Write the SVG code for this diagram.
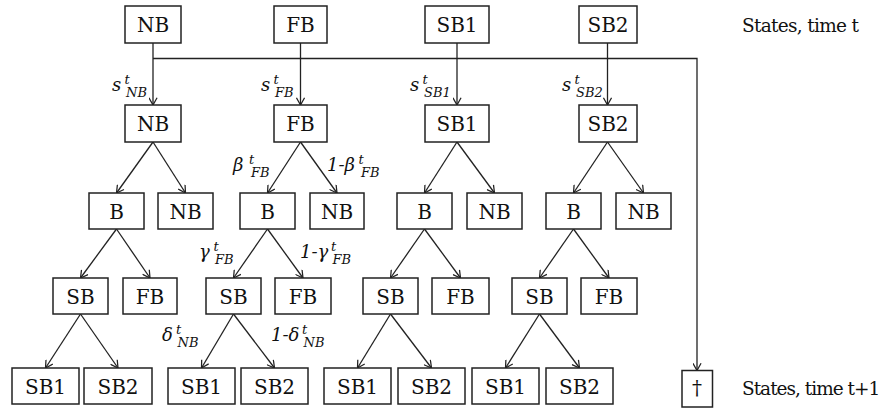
<svg xmlns="http://www.w3.org/2000/svg" width="882" height="409" viewBox="0 0 882 409">
<style>
.box{fill:#fff;stroke:#222;stroke-width:1.5}
text{font-family:"DejaVu Serif","Liberation Serif",serif;fill:#111}
.lbl{font-size:20px;text-anchor:middle}
.side{font-size:18.5px}
.it{font-style:italic;font-size:18px}
.sm{font-size:13px}
.con{stroke:#222;stroke-width:1.3;fill:none;marker-end:url(#arr)}
</style>
<defs>
<marker id="arr" viewBox="0 0 10 10" refX="10" refY="5" markerWidth="9" markerHeight="9" markerUnits="userSpaceOnUse" orient="auto">
<path d="M2,0.5 L10,5 L2,9.5" fill="none" stroke="#222" stroke-width="1.4"/>
</marker>
</defs>
<rect width="882" height="409" fill="#fff"/>

<g id="connectors">
<path class="con" d="M153,43 V105"/>
<path class="con" d="M300.5,43 V105"/>
<path class="con" d="M457,43 V105"/>
<path class="con" d="M607.5,43 V105"/>
<path class="con" d="M153,58.5 H697 V370.5"/>

<path class="con" d="M153,142 L116.5,193"/>
<path class="con" d="M153,142 L185.5,193"/>
<path class="con" d="M300.5,142 L267.5,193"/>
<path class="con" d="M300.5,142 L337,193"/>
<path class="con" d="M457,142 L424.5,193"/>
<path class="con" d="M457,142 L494.5,193"/>
<path class="con" d="M607.5,142 L573.5,193"/>
<path class="con" d="M607.5,142 L643.5,193"/>

<path class="con" d="M116.5,229 L80.5,278"/>
<path class="con" d="M116.5,229 L150,278"/>
<path class="con" d="M267.5,229 L233.5,278"/>
<path class="con" d="M267.5,229 L303,278"/>
<path class="con" d="M424.5,229 L390.5,278"/>
<path class="con" d="M424.5,229 L460.5,278"/>
<path class="con" d="M573.5,229 L539.5,278"/>
<path class="con" d="M573.5,229 L609,278"/>

<path class="con" d="M80.5,314 L45.5,368"/>
<path class="con" d="M80.5,314 L118,368"/>
<path class="con" d="M233.5,314 L201.5,368"/>
<path class="con" d="M233.5,314 L274.5,368"/>
<path class="con" d="M390.5,314 L357.5,368"/>
<path class="con" d="M390.5,314 L431.5,368"/>
<path class="con" d="M539.5,314 L505.5,368"/>
<path class="con" d="M539.5,314 L579.5,368"/>
</g>

<g id="edge-labels">
<text class="it"><tspan x="112" y="91">s</tspan><tspan class="sm" x="124.5" y="84">t</tspan><tspan class="sm" x="126" y="97">NB</tspan></text>
<text class="it"><tspan x="261" y="91">s</tspan><tspan class="sm" x="273.5" y="84">t</tspan><tspan class="sm" x="275" y="97">FB</tspan></text>
<text class="it"><tspan x="410" y="91">s</tspan><tspan class="sm" x="422.5" y="84">t</tspan><tspan class="sm" x="424" y="97">SB1</tspan></text>
<text class="it"><tspan x="562" y="91">s</tspan><tspan class="sm" x="574.5" y="84">t</tspan><tspan class="sm" x="576" y="97">SB2</tspan></text>

<text class="it"><tspan x="233" y="171">β</tspan><tspan class="sm" x="249" y="164">t</tspan><tspan class="sm" x="251" y="177">FB</tspan></text>
<text class="it"><tspan x="327" y="171">1-β</tspan><tspan class="sm" x="358.5" y="164">t</tspan><tspan class="sm" x="361" y="177">FB</tspan></text>
<text class="it"><tspan x="199" y="258">γ</tspan><tspan class="sm" x="213.5" y="251">t</tspan><tspan class="sm" x="215" y="264">FB</tspan></text>
<text class="it"><tspan x="300" y="258">1-γ</tspan><tspan class="sm" x="331" y="251">t</tspan><tspan class="sm" x="332.5" y="264">FB</tspan></text>
<text class="it"><tspan x="162" y="341">δ</tspan><tspan class="sm" x="176" y="333.5">t</tspan><tspan class="sm" x="177.5" y="347">NB</tspan></text>
<text class="it"><tspan x="271" y="341">1-δ</tspan><tspan class="sm" x="302" y="333.5">t</tspan><tspan class="sm" x="303.5" y="347">NB</tspan></text>
</g>

<g id="n-top-NB"><rect class="box" x="125" y="6" width="56" height="37"/><text class="lbl" x="153" y="32">NB</text></g>
<g id="n-top-FB"><rect class="box" x="274" y="6" width="53" height="37"/><text class="lbl" x="300.5" y="32">FB</text></g>
<g id="n-top-SB1"><rect class="box" x="425" y="6" width="64" height="37"/><text class="lbl" x="457" y="32">SB1</text></g>
<g id="n-top-SB2"><rect class="box" x="579" y="6" width="58" height="37"/><text class="lbl" x="608" y="32">SB2</text></g>

<g id="n-2-NB"><rect class="box" x="125" y="105" width="56" height="37"/><text class="lbl" x="153" y="131">NB</text></g>
<g id="n-2-FB"><rect class="box" x="274" y="105" width="53" height="37"/><text class="lbl" x="300.5" y="131">FB</text></g>
<g id="n-2-SB1"><rect class="box" x="425" y="105" width="64" height="37"/><text class="lbl" x="457" y="131">SB1</text></g>
<g id="n-2-SB2"><rect class="box" x="579" y="105" width="58" height="37"/><text class="lbl" x="608" y="131">SB2</text></g>

<g id="n-3-NB-B"><rect class="box" x="89" y="193" width="55" height="36"/><text class="lbl" x="116.5" y="218.5">B</text></g>
<g id="n-3-NB-NB"><rect class="box" x="158" y="193" width="55" height="36"/><text class="lbl" x="185.5" y="218.5">NB</text></g>
<g id="n-3-FB-B"><rect class="box" x="240" y="193" width="55" height="36"/><text class="lbl" x="267.5" y="218.5">B</text></g>
<g id="n-3-FB-NB"><rect class="box" x="310" y="193" width="54" height="36"/><text class="lbl" x="337" y="218.5">NB</text></g>
<g id="n-3-SB1-B"><rect class="box" x="397" y="193" width="55" height="36"/><text class="lbl" x="424.5" y="218.5">B</text></g>
<g id="n-3-SB1-NB"><rect class="box" x="467" y="193" width="55" height="36"/><text class="lbl" x="494.5" y="218.5">NB</text></g>
<g id="n-3-SB2-B"><rect class="box" x="546" y="193" width="55" height="36"/><text class="lbl" x="573.5" y="218.5">B</text></g>
<g id="n-3-SB2-NB"><rect class="box" x="616" y="193" width="55" height="36"/><text class="lbl" x="643.5" y="218.5">NB</text></g>

<g id="n-4-NB-SB"><rect class="box" x="53" y="278" width="55" height="36"/><text class="lbl" x="80.5" y="303.5">SB</text></g>
<g id="n-4-NB-FB"><rect class="box" x="123" y="278" width="54" height="36"/><text class="lbl" x="150" y="303.5">FB</text></g>
<g id="n-4-FB-SB"><rect class="box" x="206" y="278" width="55" height="36"/><text class="lbl" x="233.5" y="303.5">SB</text></g>
<g id="n-4-FB-FB"><rect class="box" x="275" y="278" width="56" height="36"/><text class="lbl" x="303" y="303.5">FB</text></g>
<g id="n-4-SB1-SB"><rect class="box" x="363" y="278" width="55" height="36"/><text class="lbl" x="390.5" y="303.5">SB</text></g>
<g id="n-4-SB1-FB"><rect class="box" x="432" y="278" width="57" height="36"/><text class="lbl" x="460.5" y="303.5">FB</text></g>
<g id="n-4-SB2-SB"><rect class="box" x="512" y="278" width="55" height="36"/><text class="lbl" x="539.5" y="303.5">SB</text></g>
<g id="n-4-SB2-FB"><rect class="box" x="581" y="278" width="56" height="36"/><text class="lbl" x="609" y="303.5">FB</text></g>

<g id="n-5-NB-SB1"><rect class="box" x="12" y="368" width="67" height="36"/><text class="lbl" x="45.5" y="393.5">SB1</text></g>
<g id="n-5-NB-SB2"><rect class="box" x="84" y="368" width="68" height="36"/><text class="lbl" x="118" y="393.5">SB2</text></g>
<g id="n-5-FB-SB1"><rect class="box" x="168" y="368" width="67" height="36"/><text class="lbl" x="201.5" y="393.5">SB1</text></g>
<g id="n-5-FB-SB2"><rect class="box" x="241" y="368" width="67" height="36"/><text class="lbl" x="274.5" y="393.5">SB2</text></g>
<g id="n-5-SB1-SB1"><rect class="box" x="324" y="368" width="67" height="36"/><text class="lbl" x="357.5" y="393.5">SB1</text></g>
<g id="n-5-SB1-SB2"><rect class="box" x="398" y="368" width="67" height="36"/><text class="lbl" x="431.5" y="393.5">SB2</text></g>
<g id="n-5-SB2-SB1"><rect class="box" x="472" y="368" width="67" height="36"/><text class="lbl" x="505.5" y="393.5">SB1</text></g>
<g id="n-5-SB2-SB2"><rect class="box" x="546" y="368" width="67" height="36"/><text class="lbl" x="579.5" y="393.5">SB2</text></g>

<g id="n-dead"><rect class="box" x="682" y="370.5" width="30.5" height="36.5"/><text class="lbl" x="697" y="395">†</text></g>

<g id="side-labels">
<text class="side" x="742" y="31.5" letter-spacing="-0.7">States, time t</text>
<text class="side" x="742" y="395" letter-spacing="-1">States, time t+1</text>
</g>
</svg>
